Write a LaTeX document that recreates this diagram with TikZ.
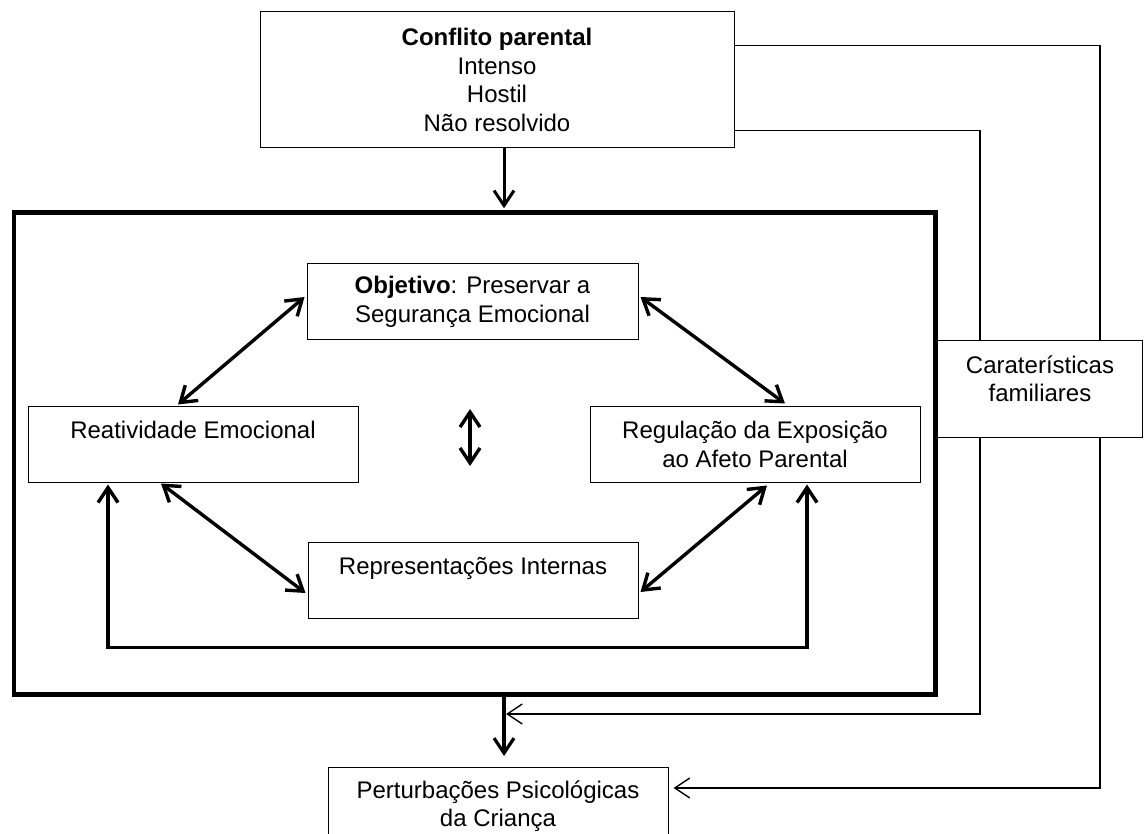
\documentclass[tikz,border=0pt]{standalone}
\usepackage{fontspec}
\setmainfont{Liberation Sans}
\usepackage{tikz}
\usetikzlibrary{arrows.meta,positioning,calc}

\begin{document}
\begin{tikzpicture}[x=1pt,y=-1pt,>={Straight Barb[length=15pt,width=20pt]},
  caixa/.style={draw,line width=1pt,inner sep=0pt,align=center,font=\fontsize{24}{28.5}\selectfont},
  dupla/.style={<->,line width=3.4pt},
  fino/.style={line width=1.4pt}]
\path[use as bounding box,fill=white] (0,0) rectangle (1144,834);
% caixas
\node[caixa,minimum width=474pt,minimum height=136pt] (conflito) at (497,80) {\textbf{Conflito parental}\\Intenso\\Hostil\\Não resolvido};
\node[draw,line width=4.5pt,inner sep=0pt,minimum width=921.5pt,minimum height=482pt] (nucleo) at (474.75,453.5) {};
\node[caixa,minimum width=331pt,minimum height=76pt] (objetivo) at (472.5,302) {\textbf{Objetivo}: Preservar a\\Segurança Emocional};
\node[caixa,minimum width=330pt,minimum height=75pt] (reatividade) at (193,444.5) {Reatividade Emocional\\\mbox{}};
\node[caixa,minimum width=330pt,minimum height=75pt] (regulacao) at (755,444.5) {Regulação da Exposição\\ao Afeto Parental};
\node[caixa,minimum width=330pt,minimum height=76pt] (representacoes) at (473,580) {Representações Internas\\\mbox{}};
\node[caixa,minimum width=205pt,minimum height=96pt] (caracteristicas) at (1040,389) {Caraterísticas\\familiares\\[-8pt]\mbox{}};
\node[caixa,minimum width=340pt,minimum height=78pt] (perturbacoes) at (498,806) {Perturbações Psicológicas\\da Criança};
\coordinate (setaA) at (470,409);
\coordinate (setaB) at (470,466);
\coordinate (juncao) at (504,714);
% setas
\draw[->,line width=3pt,shorten >=2pt] (juncao |- conflito.south) -- (juncao |- nucleo.north);
\draw[->,line width=3.2pt] (juncao |- nucleo.south) -- ($(juncao)+(0,42)$);
\draw[dupla] ($(objetivo.west)+(-2,-5)$) -- ($(reatividade.north)+(-15,-2)$);
\draw[dupla] ($(objetivo.east)+(2,-5)$) -- ($(regulacao.north)+(30,-3)$);
\draw[dupla] ($(reatividade.south)+(-32,1)$) -- ($(representacoes.west)+(-2,13)$);
\draw[dupla] ($(regulacao.south)+(12,3)$) -- ($(representacoes.east)+(2,12)$);
\draw[dupla] (setaA) -- (setaB);
\draw[dupla] ($(reatividade.south)+(-85,2)$) -- ++(0,163) -| ($(regulacao.south)+(52,2)$);
% ligacoes laterais
\draw[fino] ($(conflito.north east)+(0,34)$) -| ($(caracteristicas.north)+(60,0)$);
\draw[fino] ($(conflito.south east)+(0,-18)$) -| ($(caracteristicas.north)+(-60,0)$);
\draw[fino,->] ($(caracteristicas.south)+(-60,0)$) |- ([xshift=2pt]juncao);
\draw[fino,->] ($(caracteristicas.south)+(60,0)$) |- ($(perturbacoes.east)+(5,-18)$);
\end{tikzpicture}
\end{document}
